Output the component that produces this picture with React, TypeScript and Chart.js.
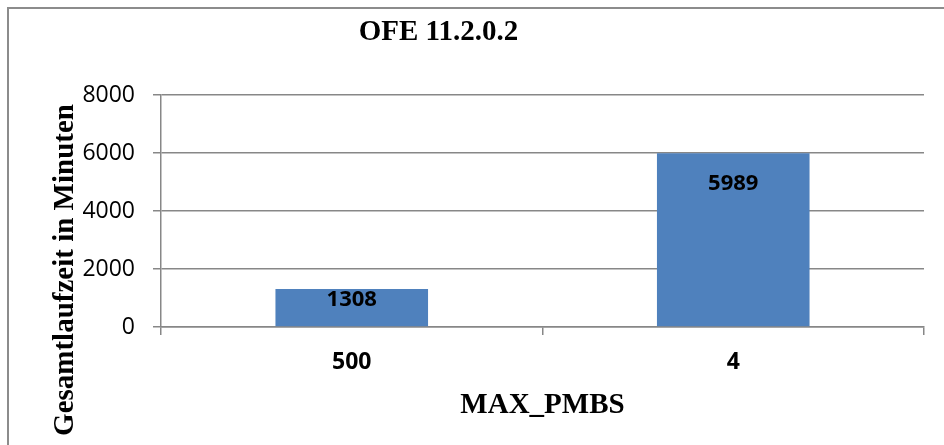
import React, { useEffect, useRef } from "react";
import { Chart, registerables } from "chart.js";

Chart.register(...registerables);

const categories = ["500", "4"];
const runtimeMinutes = [1308, 5989];
const yTickValues = [0, 2000, 4000, 6000, 8000];

const chartTitle = "OFE 11.2.0.2";
const xAxisTitle = "MAX_PMBS";
const yAxisTitle = "Gesamtlaufzeit in Minuten";

const GRID = "#878787";
const BAR = "#4F81BD";
const SANS = "'Open Sans', 'Liberation Sans', sans-serif";
const SERIF = "'Liberation Serif', 'Times New Roman', serif";

// Frame, titles and value labels drawn on the canvas
const decorPlugin = {
  id: "decor",
  beforeDraw(chart: any) {
    const ctx = chart.ctx;
    ctx.save();
    ctx.fillStyle = "#ffffff";
    ctx.fillRect(0, 0, chart.width, chart.height);
    ctx.strokeStyle = "#8c8c8c";
    ctx.lineWidth = 2;
    ctx.beginPath();
    ctx.moveTo(8, chart.height + 5);
    ctx.lineTo(8, 8);
    ctx.lineTo(chart.width + 5, 8);
    ctx.stroke();
    ctx.restore();
  },
  afterDraw(chart: any) {
    const ctx = chart.ctx;
    const area = chart.chartArea;
    ctx.save();
    ctx.fillStyle = "#000000";
    ctx.font = `bold 29px ${SERIF}`;
    ctx.textBaseline = "alphabetic";
    ctx.textAlign = "center";
    ctx.fillText(chartTitle, area.left + (area.right - area.left) / 2 - 104, 40);
    ctx.fillText(xAxisTitle, (area.left + area.right) / 2, 413);
    ctx.save();
    ctx.translate(73, 270);
    ctx.rotate(-Math.PI / 2);
    ctx.fillText(yAxisTitle, 0, 0);
    ctx.restore();

    // value labels near the inner end of each bar
    ctx.font = `bold 22px ${SANS}`;
    ctx.textBaseline = "middle";
    const meta = chart.getDatasetMeta(0);
    meta.data.forEach((bar: any, i: number) => {
      const h = bar.base - bar.y;
      const y = bar.y + Math.min(30, h * 0.3);
      ctx.fillText(String(runtimeMinutes[i]), bar.x, y);
    });
    ctx.restore();
  },
};

export default function App() {
  const canvasRef = useRef<HTMLCanvasElement | null>(null);

  useEffect(() => {
    if (!canvasRef.current) return;
    const chart = new Chart(canvasRef.current, {
      type: "bar",
      data: {
        labels: categories,
        datasets: [
          {
            data: runtimeMinutes,
            backgroundColor: BAR,
            borderWidth: 0,
            barPercentage: 0.4,
            categoryPercentage: 1,
          },
        ],
      },
      options: {
        animation: false,
        responsive: false,
        maintainAspectRatio: false,
        layout: { padding: { left: 0, right: 20, top: 95, bottom: 0 } },
        plugins: {
          legend: { display: false },
          title: { display: false },
          tooltip: { enabled: false },
        },
        scales: {
          x: {
            offset: true,
            grid: {
              offset: true,
              drawOnChartArea: false,
              drawTicks: true,
              tickLength: 8,
              color: GRID,
              lineWidth: 1.5,
            },
            border: { display: true, color: GRID, width: 1.5 },
            ticks: {
              color: "#000000",
              padding: 14,
              font: { family: SANS, size: 23, weight: "bold" },
            },
            afterFit: (scale: any) => {
              scale.height = 118;
            },
          },
          y: {
            min: 0,
            max: 8000,
            afterBuildTicks: (scale: any) => {
              scale.ticks = yTickValues.map((v) => ({ value: v }));
            },
            grid: {
              color: GRID,
              lineWidth: 1.5,
              drawTicks: true,
              tickLength: 8,
            },
            border: { display: true, color: GRID, width: 1.5 },
            ticks: {
              color: "#000000",
              padding: 18,
              font: { family: SANS, size: 23 },
              callback: (v: any) => String(v),
            },
            afterFit: (scale: any) => {
              scale.width = 161;
            },
          },
        },
      },
      plugins: [decorPlugin],
    });
    return () => chart.destroy();
  }, []);

  return (
    <div style={{ position: "fixed", left: 0, top: 0, width: 944, height: 445, background: "#fff" }}>
      <canvas ref={canvasRef} width={944} height={445} style={{ display: "block" }} />
    </div>
  );
}
